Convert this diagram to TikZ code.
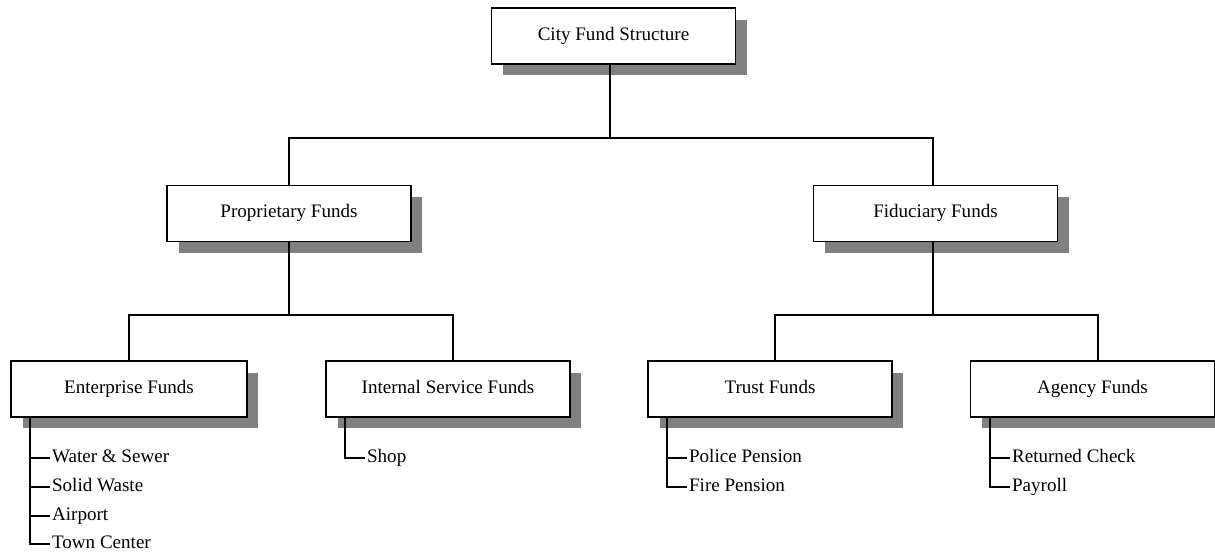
\documentclass[tikz,border=0pt]{standalone}
\usepackage{fontspec}
\setmainfont{Liberation Serif}
\usetikzlibrary{shadows}

\begin{document}
\begin{tikzpicture}[x=0.02cm,y=-0.02cm,font=\fontsize{10.85}{13}\selectfont,
  fund/.style={draw,line width=0.9pt,fill=white,minimum width=4.88cm,minimum height=1.12cm,
    text height=7.4pt,text depth=2.3pt,
    drop shadow={shadow xshift=0.23cm,shadow yshift=-0.23cm,fill=black!50,opacity=1}},
  item/.style={anchor=west,inner sep=1pt,text height=7.4pt,text depth=2.3pt},
  tie/.style={line width=1.3pt}]
\useasboundingbox (0,0) rectangle (1215,554);
% the boxes
\node[fund] (city) at (613.5,36) {City Fund Structure};
\node[fund] (prop) at (289,213.5) {Proprietary Funds};
\node[fund] (fid) at (935.5,213.5) {Fiduciary Funds};
\node[fund,minimum width=4.72cm] (ent) at (129,389) {Enterprise Funds};
\node[fund] (int) at (448,389) {Internal Service Funds};
\node[fund] (trust) at (770,389) {Trust Funds};
\node[fund] (agency) at (1092.5,389) {Agency Funds};
% tree lines
\draw[tie] ([xshift=-0.07cm]city.south) -- ++(0,73) coordinate (j1);
\draw[tie] (prop.north) |- (j1) -| ([xshift=-0.05cm]fid.north);
\draw[tie] (prop.south) -- ++(0,73) coordinate (j2);
\draw[tie] (ent.north) |- (j2) -| ([xshift=0.1cm]int.north);
\draw[tie] ([xshift=-0.05cm]fid.south) -- ++(0,73) coordinate (j3);
\draw[tie] ([xshift=0.1cm]trust.north) |- (j3) -| ([xshift=0.11cm]agency.north);
% the lists
\node[item] (ws) at (50,458) {Water \& Sewer};
\node[item] (sw) at (50,487) {Solid Waste};
\node[item] (air) at (50,516) {Airport};
\node[item] (tc) at (50,544) {Town Center};
\node[item] (shop) at (365,458) {Shop};
\node[item] (pp) at (687,458) {Police Pension};
\node[item] (fp) at (687,487) {Fire Pension};
\node[item] (rc) at (1010,458) {Returned Check};
\node[item] (pay) at (1010,487) {Payroll};
\draw[tie] ([xshift=0.4cm]ent.south west) |- (ws.west);
\draw[tie] ([xshift=0.4cm]ent.south west) |- (sw.west);
\draw[tie] ([xshift=0.4cm]ent.south west) |- (air.west);
\draw[tie] ([xshift=0.4cm]ent.south west) |- (tc.west);
\draw[tie] ([xshift=0.4cm]int.south west) |- (shop.west);
\draw[tie] ([xshift=0.4cm]trust.south west) |- (pp.west);
\draw[tie] ([xshift=0.4cm]trust.south west) |- (fp.west);
\draw[tie] ([xshift=0.4cm]agency.south west) |- (rc.west);
\draw[tie] ([xshift=0.4cm]agency.south west) |- (pay.west);
\end{tikzpicture}
\end{document}
